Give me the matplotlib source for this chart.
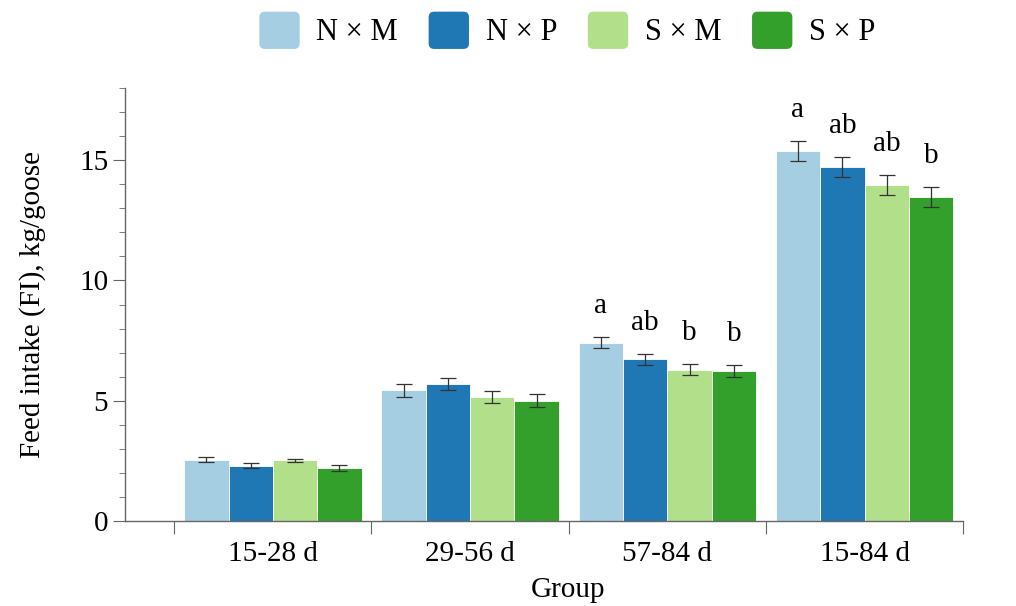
import numpy as np
import matplotlib.pyplot as plt
from matplotlib.patches import FancyBboxPatch
from matplotlib.legend_handler import HandlerPatch

plt.rcParams['font.family'] = ['Liberation Serif', 'DejaVu Serif']

groups = ["15-28 d", "29-56 d", "57-84 d", "15-84 d"]
series = ["N × M", "N × P", "S × M", "S × P"]
colors = ["#a6cee3", "#1f78b4", "#b2df8a", "#33a02c"]

# feed intake per goose (kg), one list per cross, ordered as groups
nm = [2.56, 5.43, 7.42, 15.37]
np_ = [2.31, 5.70, 6.72, 14.71]
sm = [2.52, 5.16, 6.29, 13.96]
sp = [2.21, 5.01, 6.23, 13.46]
values = [nm, np_, sm, sp]

nm_err = [0.10, 0.27, 0.22, 0.42]
np_err = [0.12, 0.25, 0.24, 0.41]
sm_err = [0.08, 0.26, 0.23, 0.42]
sp_err = [0.12, 0.26, 0.24, 0.41]
errors = [nm_err, np_err, sm_err, sp_err]

# significance letters (empty where no difference)
letters = [
    ["", "", "a", "a"],
    ["", "", "ab", "ab"],
    ["", "", "b", "ab"],
    ["", "", "b", "b"],
]


class RoundBoxHandler(HandlerPatch):
    def create_artists(self, legend, orig_handle, xdescent, ydescent,
                       width, height, fontsize, trans):
        p = FancyBboxPatch((-xdescent, -ydescent), width, height,
                           boxstyle="round,pad=0,rounding_size=4",
                           facecolor=orig_handle.get_facecolor(),
                           edgecolor="none", transform=trans)
        return [p]


fig = plt.figure(figsize=(10.16, 6.06), dpi=100)
ax = fig.add_axes([0.123, 0.140, 0.825, 0.715])

x = np.arange(len(groups))
bw = 0.225
handles = []
for i, (vals, errs, c) in enumerate(zip(values, errors, colors)):
    pos = x + (i - 1.5) * bw
    bars = ax.bar(pos, vals, width=bw, color=c, edgecolor="white",
                  linewidth=0.6, label=series[i], zorder=2)
    ax.errorbar(pos, vals, yerr=errs, fmt="none", ecolor="#333333",
                elinewidth=0.9, capsize=5.5, capthick=0.9, zorder=3)
    for p, v, e, t in zip(pos, vals, errs, letters[i]):
        if t:
            ax.text(p, v + e + 0.75, t, ha="center", va="bottom", fontsize=21)
    handles.append(bars[0])

ax.set_xlim(-0.75, 3.5)
ax.set_ylim(0, 18)

ax.spines["top"].set_visible(False)
ax.spines["right"].set_visible(False)
for s in ("left", "bottom"):
    ax.spines[s].set_color("#666666")
    ax.spines[s].set_linewidth(1.0)

ax.set_yticks([0, 5, 10, 15])
ax.set_yticks(np.arange(0, 19, 1), minor=True)
ax.tick_params(axis="y", which="major", length=9, color="#666666",
               labelsize=21, pad=3)
ax.tick_params(axis="y", which="minor", length=4.5, color="#666666")

# ticks at group boundaries, labels at group centres
ax.set_xticks(np.arange(-0.5, len(groups), 1.0))
ax.set_xticklabels([])
ax.set_xticks(x, minor=True)
ax.set_xticklabels(groups, minor=True)
ax.tick_params(axis="x", which="major", length=9, color="#666666")
ax.tick_params(axis="x", which="minor", length=0, labelsize=21, pad=14)

ax.set_ylabel("Feed intake (FI), kg/goose", fontsize=21, labelpad=24)
ax.set_xlabel("Group", fontsize=21, labelpad=6)
ax.xaxis.set_label_coords(0.529, -0.13)

fig.legend(handles=handles, labels=series, loc="center",
           bbox_to_anchor=(0.5585, 0.95), ncol=4, frameon=False, fontsize=22,
           handlelength=1.32, handleheight=1.5, handletextpad=0.55,
           columnspacing=1.0,
           handler_map={type(handles[0]): RoundBoxHandler()})

fig.savefig("out.png", dpi=100)
